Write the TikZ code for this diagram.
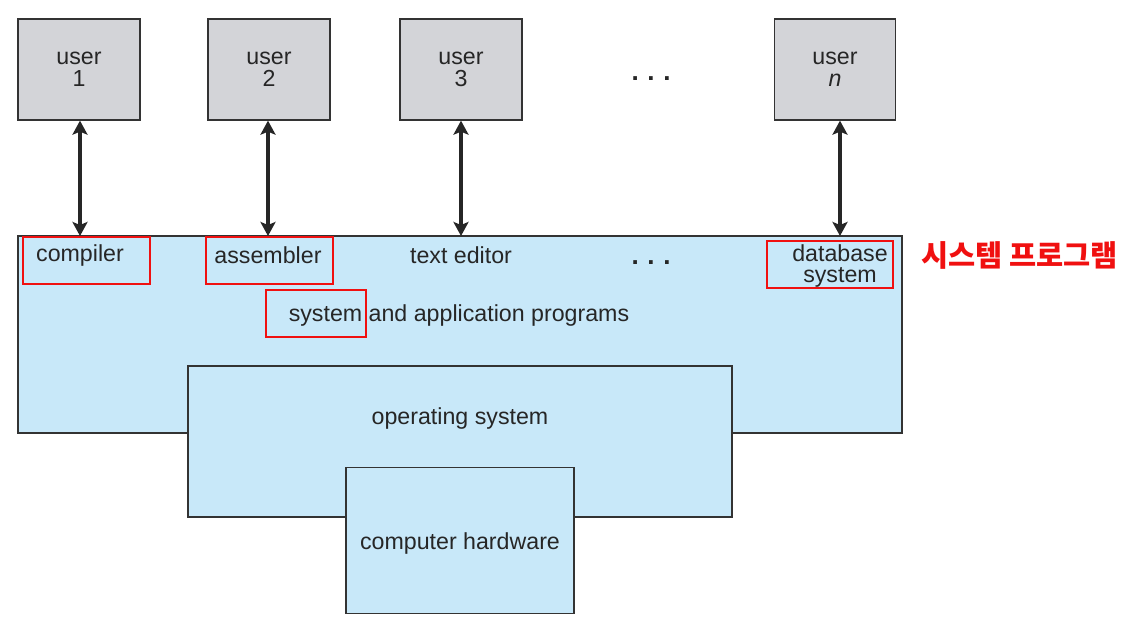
\documentclass[tikz,border=0pt]{standalone}
\usepackage{fontspec}
\setmainfont{Liberation Sans}
\newfontfamily\krfont{Noto Sans CJK KR}
\usetikzlibrary{arrows.meta}
\definecolor{usergray}{HTML}{D3D4D8}
\definecolor{layerblue}{HTML}{C8E8F9}
\definecolor{edge}{HTML}{333333}
\definecolor{mark}{HTML}{F01010}
\begin{document}
\begin{tikzpicture}[x=1pt,y=-1pt,
  txt/.style={font=\fontsize{23.2}{21.5}\selectfont, text=black!85, align=center, inner sep=0pt},
  dots/.style={font=\fontsize{26}{26}\selectfont\bfseries, text=black!85, inner sep=0pt, anchor=base},
  userbox/.style={draw=edge, line width=1.3pt, fill=usergray, minimum width=122pt, minimum height=101pt, inner sep=0pt, txt},
  layer/.style={draw=edge, line width=1.2pt, fill=layerblue, inner sep=0pt},
  redbox/.style={draw=mark, line width=1.4pt, inner sep=0pt, minimum height=47pt},
  link/.style={line width=3.6pt, draw=black!85, {Stealth[length=14pt,width=15pt,inset=3pt]}-{Stealth[length=14pt,width=15pt,inset=3pt]}}
]
\useasboundingbox (0,0) rectangle (1136,624);
\fill[white] (0,0) rectangle (1136,624);

% users
\node[userbox] (u1) at (79,69.5) {user\\1};
\node[userbox] (u2) at (269,69.5) {user\\2};
\node[userbox] (u3) at (461,69.5) {user\\3};
\node[userbox, minimum width=121pt] (un) at (835,69.5) {user\\\textit{n}};
\node[dots] (dtop) at (651,80) {.\,\,.\,\,.};

% layers
\node[layer, minimum width=884pt, minimum height=197pt] (apps) at (460,334.5) {};
\node[layer, minimum width=544pt, minimum height=151pt] (os) at (460,441.5) {};
\node[layer, minimum width=228pt, minimum height=146pt] (hw) at (460,540.5) {};

% connection points
\coordinate (c1) at (80,236);
\coordinate (c2) at (268,236);
\coordinate (c3) at (461,236);
\coordinate (cn) at (840,236);
\draw[link] (u1.south -| c1) -- (c1);
\draw[link] (u2.south -| c2) -- (c2);
\draw[link] (u3.south -| c3) -- (c3);
\draw[link] (un.south -| cn) -- (cn);

% labels
\node[txt] (comp) at (80,255) {compiler};
\node[txt] (asm) at (268,255) {assembler};
\node[txt] (ted) at (461,255) {text editor};
\node[dots] (dmid) at (651,264) {.\,\,.\,\,.};
\node[txt] (db) at (840,266) {database\\system};
\node[txt] (sap) at (459,315) {system and application programs};
\node[txt] (ost) at (460,418) {operating system};
\node[txt] (hwt) at (460,543) {computer hardware};

% red highlight boxes
\node[redbox, minimum width=127pt] (r1) at (86.5,260.5) {};
\node[redbox, minimum width=127pt] (r2) at (269.5,260.5) {};
\node[redbox, minimum width=100pt] (r3) at (316,313.5) {};
\node[redbox, minimum width=126pt] (r4) at (830,264.5) {};
\node[inner sep=0pt, text=mark, font=\krfont\bfseries\fontsize{29.5}{29.5}\selectfont, anchor=west] (kr) at (921,255) {시스템 프로그램};
\end{tikzpicture}
\end{document}
